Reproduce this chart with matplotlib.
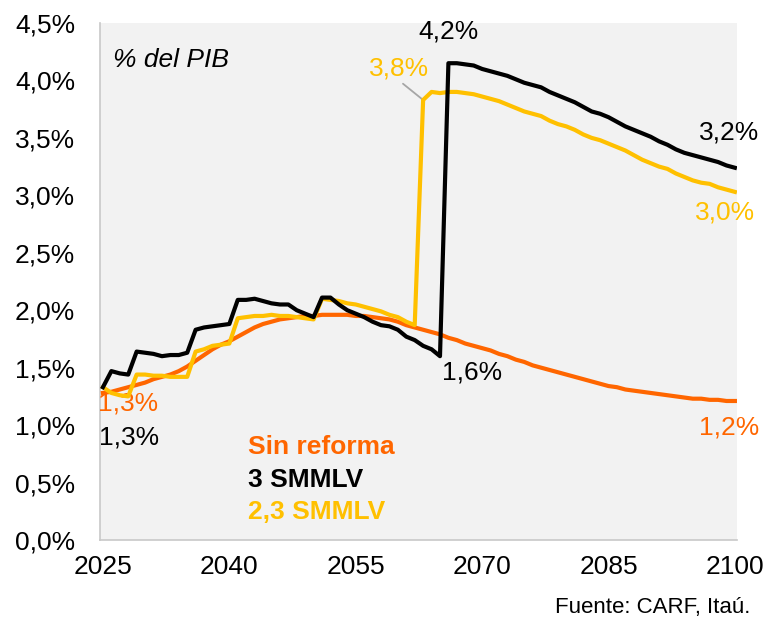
#!/usr/bin/env python3

import matplotlib
matplotlib.use("Agg")
import matplotlib.pyplot as plt
from matplotlib.ticker import FuncFormatter, MultipleLocator
import numpy as np

matplotlib.rcParams.update({'font.family': ['Liberation Sans', 'DejaVu Sans'], 'font.size': 19})

# colours
c_orange = '#FF6600'
c_black = '#000000'
c_yellow = '#FFC000'

years = np.arange(2025, 2101)

sin_reforma = [
    1.28, 1.29, 1.31, 1.33, 1.35, 1.37, 1.40, 1.42, 1.44, 1.47,
    1.51, 1.56, 1.61, 1.66, 1.70, 1.73, 1.77, 1.81, 1.85, 1.88,
    1.90, 1.92, 1.93, 1.94, 1.95, 1.95, 1.96, 1.96, 1.96, 1.96,
    1.95, 1.95, 1.94, 1.93, 1.92, 1.90, 1.87, 1.85, 1.83, 1.81,
    1.79, 1.76, 1.74, 1.71, 1.69, 1.67, 1.65, 1.62, 1.60, 1.57,
    1.55, 1.52, 1.50, 1.48, 1.46, 1.44, 1.42, 1.40, 1.38, 1.36,
    1.34, 1.33, 1.31, 1.30, 1.29, 1.28, 1.27, 1.26, 1.25, 1.24,
    1.23, 1.23, 1.22, 1.22, 1.21, 1.21,
]

smmlv_3 = [
    1.33, 1.47, 1.45, 1.44, 1.64, 1.63, 1.62, 1.60, 1.61, 1.61,
    1.63, 1.83, 1.85, 1.86, 1.87, 1.88, 2.09, 2.09, 2.10, 2.08,
    2.06, 2.05, 2.05, 2.00, 1.97, 1.94, 2.11, 2.11, 2.05, 2.00,
    1.97, 1.94, 1.90, 1.87, 1.86, 1.83, 1.77, 1.74, 1.69, 1.66,
    1.60, 4.15, 4.15, 4.14, 4.13, 4.10, 4.08, 4.06, 4.04, 4.01,
    3.98, 3.96, 3.94, 3.90, 3.87, 3.84, 3.81, 3.77, 3.73, 3.71,
    3.68, 3.64, 3.60, 3.57, 3.54, 3.51, 3.47, 3.44, 3.40, 3.37,
    3.35, 3.33, 3.31, 3.29, 3.26, 3.24,
]

smmlv_23 = [
    1.33, 1.28, 1.26, 1.25, 1.44, 1.44, 1.43, 1.43, 1.42, 1.42,
    1.42, 1.64, 1.66, 1.69, 1.70, 1.71, 1.93, 1.94, 1.95, 1.95,
    1.96, 1.95, 1.95, 1.94, 1.93, 1.92, 2.10, 2.09, 2.08, 2.06,
    2.05, 2.03, 2.01, 1.99, 1.96, 1.94, 1.90, 1.87, 3.83, 3.90,
    3.89, 3.90, 3.90, 3.89, 3.88, 3.86, 3.84, 3.82, 3.79, 3.76,
    3.73, 3.71, 3.69, 3.65, 3.62, 3.60, 3.57, 3.53, 3.50, 3.48,
    3.45, 3.42, 3.39, 3.35, 3.31, 3.28, 3.25, 3.23, 3.19, 3.16,
    3.13, 3.11, 3.10, 3.07, 3.05, 3.03,
]

xtick_years = [2025, 2040, 2055, 2070, 2085, 2100]

fig = plt.figure(figsize=(7.64, 6.26), dpi=100)
ax = fig.add_axes([100 / 764, 1 - 540 / 626, 637 / 764, 517 / 626])
ax.set_facecolor('#F2F2F2')

ax.plot(years, sin_reforma, color=c_orange, lw=3, solid_joinstyle='round', zorder=3)
ax.plot(years, smmlv_23, color=c_yellow, lw=3, solid_joinstyle='round', zorder=4)
ax.plot(years, smmlv_3, color=c_black, lw=3, solid_joinstyle='round', zorder=5)

ax.set_xlim(2024.65, 2100.25)
ax.set_ylim(0, 4.5)
ax.set_xticks(xtick_years)
ax.yaxis.set_major_locator(MultipleLocator(0.5))
ax.yaxis.set_major_formatter(FuncFormatter(lambda v, p: f'{v:.1f}%'.replace('.', ',')))
ax.tick_params(length=0, labelsize=19)
ax.tick_params(axis='y', pad=18)
ax.tick_params(axis='x', pad=11)

for s in ['top', 'right']:
    ax.spines[s].set_visible(False)
for s in ['left', 'bottom']:
    ax.spines[s].set_color('#C8C8C8')
    ax.spines[s].set_linewidth(1.2)

# data labels
ax.text(2066.0, 4.43, '4,2%', color=c_black, ha='center', va='center')
ax.annotate('3,8%', xy=(2063, smmlv_23[38]), xytext=(2060.2, 4.10), color=c_yellow,
            ha='center', va='center',
            arrowprops=dict(arrowstyle='-', color='#A6A6A6', lw=1.3,
                            relpos=(0.5, 0), shrinkA=0, shrinkB=0))
ax.text(2099.3, 3.55, '3,2%', color=c_black, ha='center', va='center')
ax.text(2098.8, 2.85, '3,0%', color=c_yellow, ha='center', va='center')
ax.text(2068.8, 1.46, '1,6%', color=c_black, ha='center', va='center')
ax.text(2099.3, 0.98, '1,2%', color=c_orange, ha='center', va='center')
ax.text(2028.0, 1.19, '1,3%', color=c_orange, ha='center', va='center')
ax.text(2028.1, 0.89, '1,3%', color=c_black, ha='center', va='center')

ax.text(2026.2, 4.18, '% del PIB', style='italic', ha='left', va='center')

# legend as coloured text
ax.text(2042.2, 0.81, 'Sin reforma', color=c_orange, fontweight='bold', ha='left', va='center')
ax.text(2042.2, 0.52, '3 SMMLV', color=c_black, fontweight='bold', ha='left', va='center')
ax.text(2042.2, 0.24, '2,3 SMMLV', color=c_yellow, fontweight='bold', ha='left', va='center')

fig.text(750 / 764, 1 - 608 / 626, 'Fuente: CARF, Itaú.', fontsize=16, ha='right', va='center')

fig.savefig('out.png', dpi=100)
